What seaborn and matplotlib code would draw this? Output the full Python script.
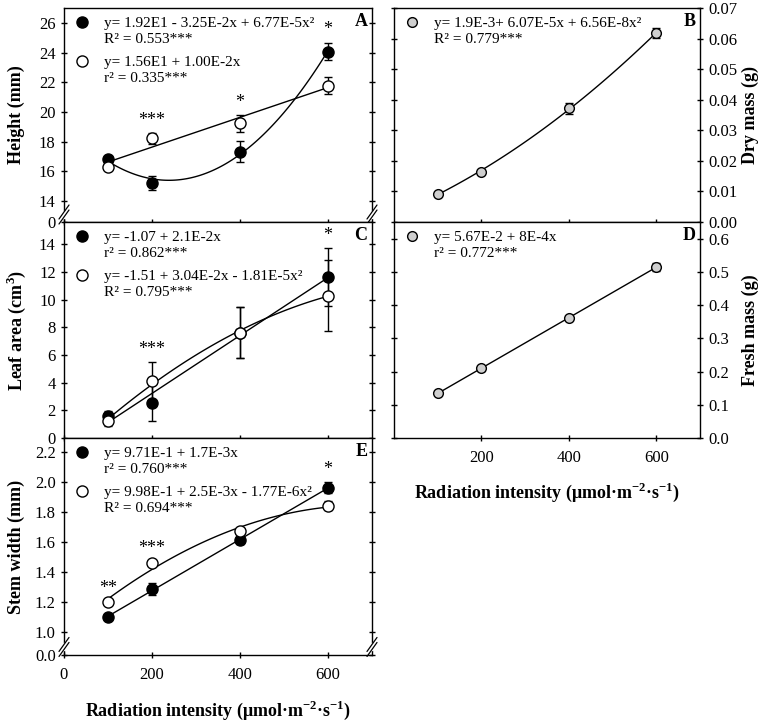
import matplotlib
matplotlib.use('Agg')
import matplotlib.pyplot as plt
import seaborn as sns
from matplotlib.lines import Line2D
from matplotlib.legend import Legend

# radiation intensity levels (umol m-2 s-1)
radiation = [100, 200, 400, 600]

# A: height (mm)
height_filled = [16.83, 15.23, 17.33, 24.07]
height_filled_err = [0.12, 0.45, 0.7, 0.6]
height_open = [16.33, 18.23, 19.23, 21.78]
height_open_err = [0.15, 0.35, 0.55, 0.6]
height_stars = ['', '***', '*', '*']

# C: leaf area (cm3)
leaf_filled = [1.58, 2.56, 7.6, 11.6]
leaf_filled_err = [0.4, 1.36, 1.85, 2.1]
leaf_open = [1.24, 4.11, 7.6, 10.29]
leaf_open_err = [0.4, 1.37, 1.85, 2.55]
leaf_stars = ['', '***', '', '*']

# E: stem width (mm)
stem_filled = [1.10, 1.29, 1.61, 1.96]
stem_filled_err = [0.012, 0.04, 0.025, 0.035]
stem_open = [1.20, 1.46, 1.67, 1.84]
stem_open_err = [0.01, 0.012, 0.012, 0.03]
stem_stars = ['**', '***', '', '*']

# B: dry mass (g)
dry_mass = [0.0093, 0.0163, 0.0372, 0.0618]
dry_mass_err = [0.0005, 0.0006, 0.0018, 0.0015]

# D: fresh mass (g)
fresh_mass = [0.135, 0.21, 0.36, 0.515]
fresh_mass_err = [0.005, 0.007, 0.006, 0.012]

sns.set_style('ticks')
plt.rcParams['font.family'] = ['Liberation Serif', 'DejaVu Serif']
plt.rcParams['mathtext.fontset'] = 'custom'
plt.rcParams['mathtext.rm'] = 'Liberation Serif'
plt.rcParams['mathtext.bf'] = 'Liberation Serif:bold'
plt.rcParams['axes.linewidth'] = 1.0
for key in ['text.color', 'axes.labelcolor', 'xtick.color', 'ytick.color', 'axes.edgecolor']:
    plt.rcParams[key] = 'black'

XLABEL = r'Radiation intensity (μmol·m$^{\mathbf{-2}}$·s$^{\mathbf{-1}}$)'
GREY = '#cfcfcf'

fig = plt.figure(figsize=(7.65, 7.22), dpi=100)
lx, lw = 64 / 765, 308 / 765
rx, rw = 394 / 765, 306 / 765
rows = [(1 - 222 / 722, 214 / 722), (1 - 438 / 722, 216 / 722), (1 - 655 / 722, 217 / 722)]

axA = fig.add_axes([lx, rows[0][0], lw, rows[0][1]])
axC = fig.add_axes([lx, rows[1][0], lw, rows[1][1]])
axE = fig.add_axes([lx, rows[2][0], lw, rows[2][1]])
axB = fig.add_axes([rx, rows[0][0], rw, rows[0][1]])
axD = fig.add_axes([rx, rows[1][0], rw, rows[1][1]])


def draw_series(ax, y, err, order, face, ms=8):
    sns.regplot(x=radiation, y=y, order=order, ci=None, scatter=False, truncate=True,
                ax=ax, line_kws=dict(color='k', lw=1))
    ax.errorbar(radiation, y, yerr=err, fmt='o', color='k', mfc=face, mec='k',
                ms=ms, mew=1, capsize=3, elinewidth=1, zorder=3)


def add_stars(ax, stars, tops):
    for x, s, t in zip(radiation, stars, tops):
        if s:
            ax.annotate(s, xy=(x, t), xytext=(0, 3), textcoords='offset points',
                        ha='center', va='bottom', fontsize=13)


def add_legend(ax, handle, lines, group):
    # one equation block: marker + equation, then the R2 line below it
    top = 1.0 - group * 39 / ax.bbox.height
    leg = Legend(ax, [handle, Line2D([], [], ls='none')], lines, loc='upper left',
                 bbox_to_anchor=(0.0, top), bbox_transform=ax.transAxes,
                 frameon=False, fontsize=11, labelspacing=0.12, handlelength=1.2,
                 handletextpad=0.85, borderaxespad=0.3, borderpad=0.25)
    ax.add_artist(leg)


def add_break(ax, yfrac):
    h = ax.bbox.height
    w = ax.bbox.width
    dx, dy, off = 5 / w, 7 / h, 2.5 / h
    for xf in (0, 1):
        ax.plot([xf, xf], [yfrac - off, yfrac + off], transform=ax.transAxes,
                color='white', lw=2.5, clip_on=False, zorder=5)
        for o in (-off, off):
            ax.plot([xf - dx, xf + dx], [yfrac + o - dy, yfrac + o + dy],
                    transform=ax.transAxes, color='k', lw=0.9, clip_on=False, zorder=6)


def filled_h():
    return Line2D([], [], ls='none', marker='o', mfc='k', mec='k', ms=8)


def open_h():
    return Line2D([], [], ls='none', marker='o', mfc='white', mec='k', ms=8)


def grey_h():
    return Line2D([], [], ls='none', marker='o', mfc=GREY, mec='k', ms=7)


# ---- A: height
draw_series(axA, height_filled, height_filled_err, 2, 'k')
draw_series(axA, height_open, height_open_err, 1, 'white')
tops = [max(a + b, c + d) for a, b, c, d in zip(height_filled, height_filled_err, height_open, height_open_err)]
add_stars(axA, height_stars, tops)
axA.set_ylim(12.6, 27)
axA.set_yticks([12.6, 14, 16, 18, 20, 22, 24, 26])
axA.set_yticklabels(['0', '14', '16', '18', '20', '22', '24', '26'])
add_legend(axA, filled_h(), ['y= 1.92E1 - 3.25E-2x + 6.77E-5x²', 'R² = 0.553***'], 0)
add_legend(axA, open_h(), ['y= 1.56E1 + 1.00E-2x', 'r² = 0.335***'], 1)
axA.set_ylabel('Height (mm)')

# ---- C: leaf area
draw_series(axC, leaf_filled, leaf_filled_err, 1, 'k')
draw_series(axC, leaf_open, leaf_open_err, 2, 'white')
tops = [max(a + b, c + d) for a, b, c, d in zip(leaf_filled, leaf_filled_err, leaf_open, leaf_open_err)]
add_stars(axC, leaf_stars, tops)
axC.set_ylim(0, 15.6)
axC.set_yticks([0, 2, 4, 6, 8, 10, 12, 14])
add_legend(axC, filled_h(), ['y= -1.07 + 2.1E-2x', 'r² = 0.862***'], 0)
add_legend(axC, open_h(), ['y= -1.51 + 3.04E-2x - 1.81E-5x²', 'R² = 0.795***'], 1)
axC.set_ylabel(r'Leaf area (cm$^{\mathbf{3}}$)')

# ---- E: stem width
draw_series(axE, stem_filled, stem_filled_err, 1, 'k')
draw_series(axE, stem_open, stem_open_err, 2, 'white')
tops = [max(a + b, c + d) for a, b, c, d in zip(stem_filled, stem_filled_err, stem_open, stem_open_err)]
add_stars(axE, stem_stars, tops)
axE.set_ylim(0.85, 2.29)
axE.set_yticks([0.85, 1.0, 1.2, 1.4, 1.6, 1.8, 2.0, 2.2])
axE.set_yticklabels(['0.0', '1.0', '1.2', '1.4', '1.6', '1.8', '2.0', '2.2'])
add_legend(axE, filled_h(), ['y= 9.71E-1 + 1.7E-3x', 'r² = 0.760***'], 0)
add_legend(axE, open_h(), ['y= 9.98E-1 + 2.5E-3x - 1.77E-6x²', 'R² = 0.694***'], 1)
axE.set_ylabel('Stem width (mm)')
axE.set_xlabel(XLABEL)

# ---- B: dry mass
draw_series(axB, dry_mass, dry_mass_err, 2, GREY, ms=7)
axB.set_ylim(0, 0.07)
axB.set_yticks([0, 0.01, 0.02, 0.03, 0.04, 0.05, 0.06, 0.07])
axB.set_yticklabels(['0.00', '0.01', '0.02', '0.03', '0.04', '0.05', '0.06', '0.07'])
add_legend(axB, grey_h(), ['y= 1.9E-3+ 6.07E-5x + 6.56E-8x²', 'R² = 0.779***'], 0)
axB.set_ylabel('Dry mass (g)')

# ---- D: fresh mass
draw_series(axD, fresh_mass, fresh_mass_err, 1, GREY, ms=7)
axD.set_ylim(0, 0.65)
axD.set_yticks([0, 0.1, 0.2, 0.3, 0.4, 0.5, 0.6])
axD.set_yticklabels(['0.0', '0.1', '0.2', '0.3', '0.4', '0.5', '0.6'])
add_legend(axD, grey_h(), ['y= 5.67E-2 + 8E-4x', 'r² = 0.772***'], 0)
axD.set_ylabel('Fresh mass (g)')
axD.set_xlabel(XLABEL)

# ---- shared formatting
for ax, letter in zip([axA, axC, axE, axB, axD], 'ACEBD'):
    ax.set_xlim(0, 700)
    ax.text(0.985, 0.975, letter, transform=ax.transAxes, ha='right', va='top',
            fontsize=13, fontweight='bold')
    for sp in ax.spines.values():
        sp.set_visible(True)
        sp.set_color('k')
    ax.tick_params(axis='both', direction='inout', length=5, width=1, colors='k',
                   top=False, right=True, left=True, bottom=True)
    ax.tick_params(axis='y', labelsize=12)
    ax.tick_params(axis='x', labelsize=12, pad=6)
    for lab in (ax.yaxis.label, ax.xaxis.label):
        lab.set_fontsize(13)
        lab.set_fontweight('bold')

for ax in [axA, axC, axE]:
    ax.set_xticks([0, 200, 400, 600])
    ax.tick_params(axis='y', labelleft=True, labelright=False)
    ax.yaxis.label.set_va('center')
    ax.yaxis.set_label_coords(-0.155, 0.5)
for ax in [axB, axD]:
    ax.set_xticks([200, 400, 600])
    ax.tick_params(axis='y', labelleft=False, labelright=True)
    ax.yaxis.set_label_position('right')
    ax.yaxis.label.set_rotation(90)
    ax.yaxis.label.set_va('center')
    ax.yaxis.set_label_coords(1.165, 0.5)
for ax in [axA, axC, axB]:
    ax.tick_params(axis='x', labelbottom=False)
axE.xaxis.set_label_coords(0.5, -0.2)
axD.xaxis.set_label_coords(0.5, -0.2)

add_break(axA, 0.035)
add_break(axE, 0.037)

fig.savefig('out.png', dpi=100)
